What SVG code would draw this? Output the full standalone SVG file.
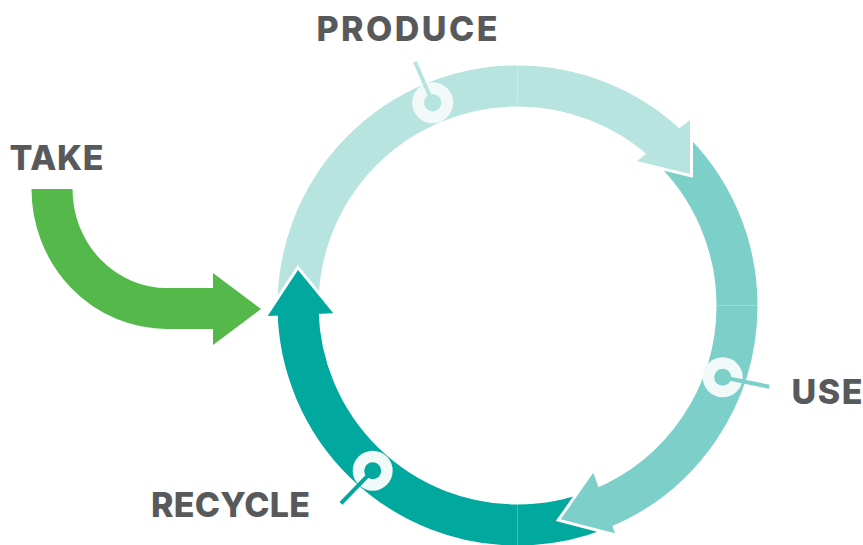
<svg xmlns="http://www.w3.org/2000/svg" width="863" height="545" viewBox="0 0 863 545">
  <style>
    .band { fill: none; stroke-width: 41; stroke-linecap: butt; }
    .light { stroke: #B8E4E0; }
    .mid { stroke: #7CD0C9; }
    .dark { stroke: #00A89E; }
    .green { stroke: #54B84A; }
    .hl { fill: #B8E4E0; }
    .hm { fill: #7CD0C9; }
    .hd { fill: #00A89E; }
    .hg { fill: #54B84A; }
    .outline { fill: none; stroke: #FFFFFF; stroke-width: 6; stroke-linejoin: miter; stroke-miterlimit: 10; }
    .ring { fill: #F2F9F9; }
    .lbl { font-family: Inter, "Open Sans", "Liberation Sans", sans-serif; font-weight: 800; font-size: 34px; fill: #58595B; }
    .tick { stroke-width: 4; stroke-linecap: butt; }
  </style>
  <rect width="863" height="545" fill="#FFFFFF"/>
  <g id="connectors">
    <!-- ring bands -->
    <path class="band light" d="M298.08,311.25 A219.5,219.5 0 0 1 517.5,86"/>
    <path class="band light" d="M517.5,86 A219.5,219.5 0 0 1 667.2,144.97"/>
    <path class="band mid" d="M667.2,144.97 A219.5,219.5 0 0 1 737,305.5"/>
    <path class="band mid" d="M737,305.5 A219.5,219.5 0 0 1 599.73,509.02"/>
    <path class="band dark" d="M599.73,509.02 A219.5,219.5 0 0 1 517.5,525"/>
    <path class="band dark" d="M517.5,525 A219.5,219.5 0 0 1 298.08,311.25"/>
    <!-- arrow heads -->
    <path class="outline" d="M690,120 L690,174 L637,161"/>
    <polygon class="hl" points="690,120 690,174 637,161"/>
    <path class="outline" d="M593.3,472.7 L560.7,519.3 L615,533.3"/>
    <polygon class="hm" points="593.3,472.7 560.7,519.3 615,533.3"/>
    <path class="outline" d="M267.7,316 L298,270 L333.3,313.3"/>
    <polygon class="hd" points="267.7,316 298,270 333.3,313.3"/>
    <!-- take arrow -->
    <path class="band green" d="M52,189 A115,119.5 0 0 0 167,308.5 L214,308.5"/>
    <polygon class="hg" points="213,273 261,309 213,345"/>
  </g>
  <g id="node-take">
    <text class="lbl" x="9.5" y="170" textLength="94" lengthAdjust="spacing">TAKE</text>
  </g>
  <g id="node-produce">
    <circle class="ring" cx="432.7" cy="102.7" r="20.5"/>
    <line class="tick" x1="432.7" y1="102.7" x2="415" y2="61.7" stroke="#B8E4E0"/>
    <circle cx="432.7" cy="102.7" r="8.7" fill="#B8E4E0"/>
    <text class="lbl" x="316.5" y="41" textLength="181" lengthAdjust="spacing">PRODUCE</text>
  </g>
  <g id="node-use">
    <circle class="ring" cx="722.7" cy="377.3" r="20"/>
    <line class="tick" x1="722.7" y1="377.3" x2="769.3" y2="386.7" stroke="#7CD0C9"/>
    <circle cx="722.7" cy="377.3" r="8.5" fill="#7CD0C9"/>
    <text class="lbl" x="791.5" y="403.5" textLength="71" lengthAdjust="spacing">USE</text>
  </g>
  <g id="node-recycle">
    <circle class="ring" cx="372.7" cy="470.7" r="20"/>
    <line class="tick" x1="372.7" y1="470.7" x2="341" y2="503.3" stroke="#00A89E"/>
    <circle cx="372.7" cy="470.7" r="8.5" fill="#00A89E"/>
    <text class="lbl" x="151" y="516.5" textLength="159" lengthAdjust="spacing">RECYCLE</text>
  </g>
</svg>
